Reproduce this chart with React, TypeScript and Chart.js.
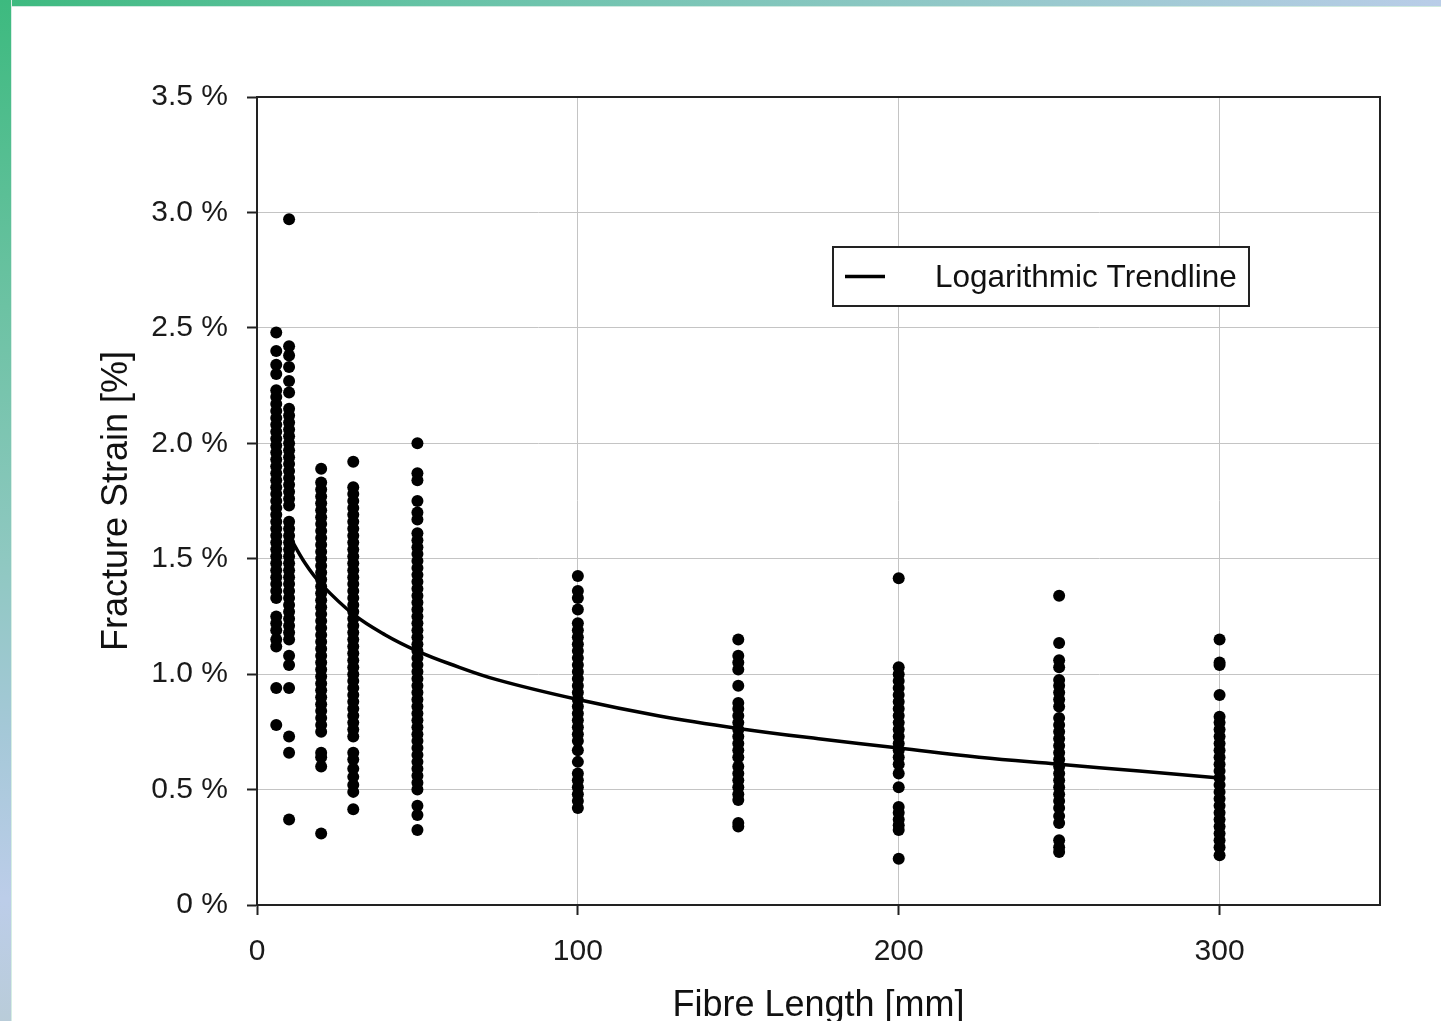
import React, { useEffect, useRef } from 'react';
import { Chart, registerables } from 'chart.js';

Chart.register(...registerables);

// ---------- data ----------
const xTickValues = [0, 100, 200, 300];
const xTickLabels = ['0', '100', '200', '300'];
const yTickValues = [0, 0.5, 1, 1.5, 2, 2.5, 3, 3.5];
const yTickLabels = ['0 %', '0.5 %', '1.0 %', '1.5 %', '2.0 %', '2.5 %', '3.0 %', '3.5 %'];

const fibreLengths = [6, 10, 20, 30, 50, 100, 150, 200, 250, 300];

const strain6 = [2.48, 2.40, 2.34, 2.30, 2.23, 2.20, 2.17, 2.14, 2.11, 2.08, 2.05, 2.02, 1.99, 1.96, 1.93, 1.90, 1.87, 1.84, 1.81, 1.78, 1.75, 1.72, 1.69, 1.66, 1.63, 1.60, 1.57, 1.54, 1.51, 1.48, 1.45, 1.42, 1.39, 1.36, 1.33, 1.25, 1.22, 1.19, 1.15, 1.12, 0.94, 0.78];
const strain10 = [2.97, 2.42, 2.38, 2.33, 2.27, 2.22, 2.15, 2.12, 2.09, 2.06, 2.03, 2.00, 1.97, 1.94, 1.91, 1.88, 1.85, 1.82, 1.79, 1.76, 1.73, 1.66, 1.63, 1.60, 1.57, 1.54, 1.51, 1.48, 1.45, 1.42, 1.39, 1.36, 1.33, 1.30, 1.27, 1.24, 1.21, 1.18, 1.15, 1.08, 1.04, 0.94, 0.73, 0.66, 0.37];
const strain20 = [1.89, 1.83, 1.80, 1.77, 1.74, 1.71, 1.68, 1.65, 1.62, 1.59, 1.56, 1.53, 1.50, 1.47, 1.44, 1.41, 1.38, 1.35, 1.32, 1.29, 1.26, 1.23, 1.20, 1.17, 1.14, 1.11, 1.08, 1.05, 1.02, 0.99, 0.96, 0.93, 0.90, 0.87, 0.84, 0.81, 0.78, 0.75, 0.66, 0.64, 0.60, 0.31];
const strain30 = [1.92, 1.81, 1.78, 1.75, 1.72, 1.69, 1.66, 1.63, 1.60, 1.57, 1.54, 1.51, 1.48, 1.45, 1.42, 1.39, 1.36, 1.33, 1.30, 1.27, 1.24, 1.21, 1.18, 1.15, 1.12, 1.09, 1.06, 1.03, 1.00, 0.97, 0.94, 0.91, 0.88, 0.85, 0.82, 0.79, 0.76, 0.73, 0.66, 0.63, 0.59, 0.555, 0.52, 0.49, 0.415];
const strain50 = [2.00, 1.87, 1.84, 1.75, 1.70, 1.67, 1.61, 1.58, 1.55, 1.52, 1.49, 1.46, 1.43, 1.40, 1.37, 1.34, 1.31, 1.28, 1.25, 1.22, 1.19, 1.16, 1.13, 1.10, 1.07, 1.04, 1.01, 0.98, 0.95, 0.92, 0.89, 0.86, 0.83, 0.80, 0.77, 0.74, 0.71, 0.68, 0.65, 0.62, 0.59, 0.56, 0.53, 0.50, 0.43, 0.39, 0.325];
const strain100 = [1.425, 1.36, 1.33, 1.28, 1.22, 1.19, 1.16, 1.13, 1.10, 1.07, 1.04, 1.01, 0.98, 0.95, 0.92, 0.89, 0.86, 0.83, 0.80, 0.77, 0.74, 0.71, 0.67, 0.62, 0.57, 0.54, 0.51, 0.48, 0.45, 0.42];
const strain150 = [1.15, 1.08, 1.05, 1.02, 0.95, 0.875, 0.85, 0.82, 0.79, 0.76, 0.73, 0.70, 0.67, 0.64, 0.60, 0.57, 0.54, 0.51, 0.48, 0.455, 0.355, 0.34];
const strain200 = [1.415, 1.03, 1.00, 0.97, 0.94, 0.91, 0.88, 0.85, 0.82, 0.79, 0.76, 0.73, 0.70, 0.67, 0.64, 0.61, 0.57, 0.51, 0.425, 0.40, 0.37, 0.345, 0.325, 0.20];
const strain250 = [1.34, 1.135, 1.06, 1.03, 0.975, 0.95, 0.92, 0.89, 0.86, 0.81, 0.78, 0.75, 0.72, 0.69, 0.66, 0.63, 0.60, 0.57, 0.54, 0.51, 0.48, 0.45, 0.42, 0.385, 0.355, 0.28, 0.25, 0.23];
const strain300 = [1.15, 1.05, 1.04, 0.91, 0.815, 0.79, 0.76, 0.73, 0.70, 0.67, 0.64, 0.61, 0.58, 0.55, 0.52, 0.49, 0.46, 0.43, 0.40, 0.37, 0.34, 0.31, 0.28, 0.25, 0.215];

const strainColumns = [strain6, strain10, strain20, strain30, strain50, strain100, strain150, strain200, strain250, strain300];

const trendX = [10, 15, 20, 30, 40, 50, 60, 75, 100, 125, 150, 175, 200, 225, 250, 275, 300];
const trendY = [1.60, 1.48, 1.39, 1.26, 1.17, 1.10, 1.045, 0.975, 0.89, 0.82, 0.765, 0.72, 0.68, 0.64, 0.61, 0.58, 0.55];

const trendLabel = 'Logarithmic Trendline';
const xTitle = 'Fibre Length [mm]';
const yTitle = 'Fracture Strain [%]';

// ---------- style ----------
const FONT = '"Liberation Sans", Arial, Helvetica, sans-serif';
const DARK = '#222222';
const GRID = '#c4c4c4';

const frameLegendPlugin = {
  id: 'frameLegend',
  afterDraw(chart: any) {
    const { ctx, chartArea: a } = chart;
    ctx.save();
    ctx.strokeStyle = DARK;
    ctx.lineWidth = 2;
    ctx.strokeRect(a.left, a.top, a.right - a.left, a.bottom - a.top);

    const bx = a.left + 576;
    const by = a.top + 150;
    const bw = 416;
    const bh = 59;
    ctx.fillStyle = '#ffffff';
    ctx.fillRect(bx, by, bw, bh);
    ctx.lineWidth = 2;
    ctx.strokeStyle = DARK;
    ctx.strokeRect(bx, by, bw, bh);
    const cy = by + bh / 2;
    ctx.beginPath();
    ctx.lineWidth = 3.5;
    ctx.strokeStyle = '#000';
    ctx.moveTo(bx + 12, cy);
    ctx.lineTo(bx + 52, cy);
    ctx.stroke();
    ctx.fillStyle = '#111';
    ctx.font = `31.5px ${FONT}`;
    ctx.textBaseline = 'middle';
    ctx.textAlign = 'left';
    ctx.fillText(chart.data.datasets[0].label, bx + 102, cy + 2);
    ctx.restore();
  },
};

export default function App() {
  const ref = useRef<HTMLCanvasElement>(null);

  useEffect(() => {
    const canvas = ref.current;
    if (!canvas) return;

    const scatterPoints: { x: number; y: number }[] = [];
    fibreLengths.forEach((len, i) => {
      strainColumns[i].forEach((v) => scatterPoints.push({ x: len, y: v }));
    });
    const trendPoints = trendX.map((x, i) => ({ x, y: trendY[i] }));

    const chart = new Chart(canvas, {
      type: 'scatter',
      data: {
        datasets: [
          {
            type: 'line',
            label: trendLabel,
            data: trendPoints,
            borderColor: '#000',
            borderWidth: 3.5,
            pointRadius: 0,
            fill: false,
            tension: 0.4,
          } as any,
          {
            type: 'scatter',
            label: 'Measurements',
            data: scatterPoints,
            backgroundColor: '#000',
            borderColor: '#000',
            borderWidth: 0,
            pointRadius: 6,
          } as any,
        ],
      },
      options: {
        responsive: false,
        animation: false,
        devicePixelRatio: 1,
        layout: { padding: { top: 97, right: 61, left: 0, bottom: 0 } },
        plugins: {
          legend: { display: false },
          tooltip: { enabled: false },
        },
        scales: {
          x: {
            type: 'linear',
            min: 0,
            max: 350,
            afterBuildTicks: (axis: any) => {
              axis.ticks = xTickValues.map((v) => ({ value: v }));
            },
            afterFit: (axis: any) => {
              axis.height = 116;
            },
            ticks: {
              callback: (_v: any, i: number) => xTickLabels[i],
              font: { family: FONT, size: 30 },
              color: '#1a1a1a',
              padding: 19,
              maxRotation: 0,
            },
            grid: { color: GRID, lineWidth: 1, tickColor: DARK, tickLength: 10, tickWidth: 2 },
            border: { color: DARK, width: 2 },
            title: {
              display: true,
              text: xTitle,
              font: { family: FONT, size: 36 },
              color: '#111',
              padding: { top: 0, bottom: -7 },
            },
          },
          y: {
            type: 'linear',
            min: 0,
            max: 3.5,
            afterBuildTicks: (axis: any) => {
              axis.ticks = yTickValues.map((v) => ({ value: v }));
            },
            afterFit: (axis: any) => {
              axis.width = 257;
            },
            ticks: {
              callback: (_v: any, i: number) => yTickLabels[i],
              font: { family: FONT, size: 30 },
              color: '#1a1a1a',
              padding: 19,
            },
            grid: { color: GRID, lineWidth: 1, tickColor: DARK, tickLength: 10, tickWidth: 2 },
            border: { color: DARK, width: 2 },
            title: {
              display: true,
              text: yTitle,
              font: { family: FONT, size: 36 },
              color: '#111',
              padding: { top: 95, bottom: 0 },
            },
          },
        },
      } as any,
      plugins: [frameLegendPlugin],
    });

    return () => chart.destroy();
  }, []);

  return (
    <div
      style={{
        position: 'fixed',
        left: 0,
        top: 0,
        width: 1441,
        height: 1021,
        background: '#ffffff',
        overflow: 'hidden',
      }}
    >
      <canvas ref={ref} width={1441} height={1021} style={{ position: 'absolute', left: 0, top: 0 }} />
      <div
        style={{
          position: 'absolute',
          left: 0,
          top: 0,
          width: 1441,
          height: 6,
          background: 'linear-gradient(to right, #3dba7f 0%, #66c3a6 30%, #8ac7c2 60%, #b9cde8 100%)',
          borderBottom: '1px solid #cfe9df',
        }}
      />
      <div
        style={{
          position: 'absolute',
          left: 0,
          top: 0,
          width: 11,
          height: 1021,
          background: 'linear-gradient(to bottom, #3dba7f 0%, #6cc2a3 30%, #8fc8c1 55%, #a5c8d8 72%, #bccde9 88%, #b9ccd9 100%)',
          borderRight: '1px solid #d6eee4',
        }}
      />
    </div>
  );
}
